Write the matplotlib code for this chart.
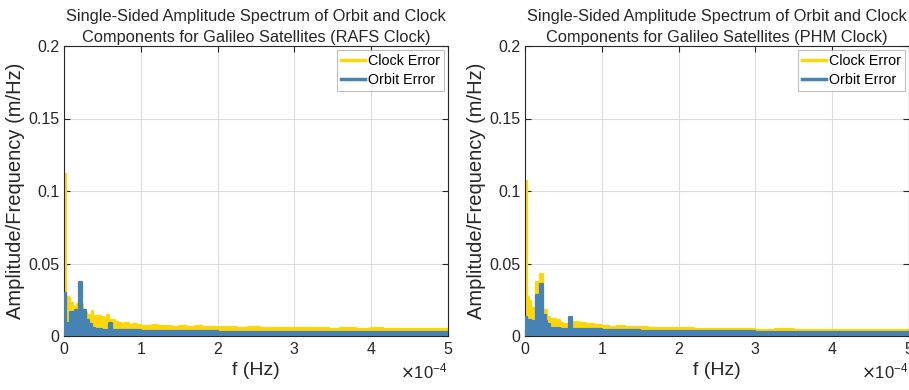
import matplotlib
matplotlib.use("Agg")
import matplotlib.pyplot as plt
from matplotlib.ticker import ScalarFormatter, FuncFormatter

plt.rcParams['font.family'] = ['Liberation Sans', 'DejaVu Sans']

# ---------------- data (frequency in micro-Hz, amplitude envelope in m/Hz) ----------------
rafs_clock_f = [0, 1.3, 2.6, 4, 6, 8, 9.5, 12, 14, 17, 19, 22, 25, 27, 30, 33, 36, 38, 40, 44,
                48, 52, 56, 58, 62, 66, 70, 75, 80, 85, 90, 95, 100, 108, 115, 122, 130, 140,
                150, 160, 170, 180, 190, 200, 210, 225, 240, 255, 270, 285, 300, 315, 330,
                345, 360, 380, 400, 415, 430, 445, 460, 480, 500]
rafs_clock_a = [0.112, 0.112, 0.027, 0.027, 0.026, 0.022, 0.023, 0.020, 0.019, 0.022, 0.023, 0.022,
                0.018, 0.016, 0.0145, 0.0145, 0.0175, 0.014, 0.0135, 0.0135, 0.0130, 0.0125,
                0.0145, 0.011, 0.011, 0.0095, 0.0090, 0.0082, 0.0088, 0.0078, 0.0082, 0.0074,
                0.0072, 0.0068, 0.0074, 0.0066, 0.0070, 0.0064, 0.0067, 0.0062, 0.0068,
                0.0061, 0.0063, 0.0059, 0.0062, 0.0057, 0.0060, 0.0055, 0.0058, 0.0054,
                0.0057, 0.0052, 0.0055, 0.0051, 0.0054, 0.0049, 0.0052, 0.0047, 0.0050,
                0.0046, 0.0048, 0.0045, 0.0046]

rafs_orbit_f = [0, 1.5, 2.6, 5, 8, 10, 11.5, 13, 14, 17, 19, 21, 23, 25, 27, 29, 32, 36, 40, 45,
                50, 56, 58, 60, 62, 70, 85, 100, 130, 160, 200, 250, 300, 350, 400, 450, 500]
rafs_orbit_a = [0.0294, 0.0294, 0.009, 0.009, 0.0168, 0.0168, 0.011, 0.011, 0.018, 0.018,
                0.0375, 0.0375, 0.012, 0.018, 0.018, 0.011, 0.008, 0.0055, 0.0050, 0.0045,
                0.0042, 0.0042, 0.0090, 0.0090, 0.0042, 0.0040, 0.0038, 0.0036, 0.0034,
                0.0033, 0.0031, 0.0030, 0.0030, 0.0029, 0.0029, 0.0028, 0.0028]

phm_clock_f = [0, 1.3, 2.6, 5, 8, 12, 14, 17.5, 19, 22, 24, 28, 32, 40, 45, 50, 55, 62, 70,
               80, 90, 100, 110, 120, 130, 145, 160, 175, 190, 205, 220, 240, 260, 280, 300,
               325, 350, 375, 400, 425, 450, 475, 500]
phm_clock_a = [0.107, 0.107, 0.027, 0.024, 0.019, 0.017, 0.0375, 0.0375, 0.043, 0.043, 0.018,
               0.0133, 0.012, 0.011, 0.0090, 0.0083, 0.0080, 0.0095, 0.0090, 0.0080, 0.0076,
               0.0068, 0.0064, 0.0066, 0.0060, 0.0062, 0.0056, 0.0058, 0.0052, 0.0054,
               0.0048, 0.0050, 0.0045, 0.0047, 0.0043, 0.0045, 0.0041, 0.0043, 0.0040,
               0.0042, 0.0039, 0.0041, 0.0039]

phm_orbit_f = [0, 1.5, 2.6, 8, 12, 14, 17.5, 19, 22, 24, 27, 29, 33, 45, 55, 57, 59, 61, 80,
               100, 150, 200, 300, 400, 500]
phm_orbit_a = [0.0133, 0.0133, 0.011, 0.0105, 0.010, 0.028, 0.028, 0.036, 0.036, 0.0145,
               0.0106, 0.008, 0.0055, 0.0050, 0.0048, 0.0129, 0.0129, 0.0048, 0.0045,
               0.0040, 0.0035, 0.0032, 0.0029, 0.0028, 0.0028]

series_labels = ['Clock Error', 'Orbit Error']
titles = ['Single-Sided Amplitude Spectrum of Orbit and Clock\nComponents for Galileo Satellites (RAFS Clock)',
          'Single-Sided Amplitude Spectrum of Orbit and Clock\nComponents for Galileo Satellites (PHM Clock)']
x_ticks = [0, 1e-4, 2e-4, 3e-4, 4e-4, 5e-4]
y_ticks = [0, 0.05, 0.1, 0.15, 0.2]

CLOCK_C = '#FFD60A'
ORBIT_C = '#4682B4'
TXT = '#262626'

fig = plt.figure(figsize=(9.09, 3.90), dpi=100)
W, H = 909, 390
positions = [(64, 384), (525, 384)]
datasets = [(rafs_clock_f, rafs_clock_a, rafs_orbit_f, rafs_orbit_a),
            (phm_clock_f, phm_clock_a, phm_orbit_f, phm_orbit_a)]

for (x0, w), (cf, ca, of, oa), title in zip(positions, datasets, titles):
    ax = fig.add_axes([x0 / W, (H - 336) / H, w / W, 290 / H])
    cfh = [v * 1e-6 for v in cf]
    ofh = [v * 1e-6 for v in of]
    ax.fill_between(cfh, 0, ca, step='post', color=CLOCK_C, lw=0, zorder=2)
    ax.plot(cfh, ca, drawstyle='steps-post', color=CLOCK_C, lw=1.6, label=series_labels[0], zorder=2)
    ax.fill_between(ofh, 0, oa, step='post', color=ORBIT_C, lw=0, zorder=3)
    ax.plot(ofh, oa, drawstyle='steps-post', color=ORBIT_C, lw=1.6, label=series_labels[1], zorder=3)

    ax.set_xlim(0, 5e-4)
    ax.set_ylim(0, 0.2)
    ax.set_xticks(x_ticks)
    ax.set_yticks(y_ticks)
    fmt = ScalarFormatter(useMathText=True)
    fmt.set_powerlimits((-3, 3))
    ax.xaxis.set_major_formatter(fmt)
    ax.yaxis.set_major_formatter(FuncFormatter(lambda v, p: '%g' % v))
    off = ax.xaxis.get_offset_text()
    off.set_fontsize(12)
    off.set_color(TXT)
    off.set_y(-0.04)
    ax.tick_params(direction='in', top=True, right=True, length=4, width=0.8,
                   labelsize=11.5, colors=TXT, labelcolor=TXT)
    ax.grid(True, color='#DCDCDC', lw=0.8, zorder=0)
    ax.set_axisbelow(True)
    for s in ax.spines.values():
        s.set_color(TXT)
        s.set_linewidth(0.8)
    ax.set_xlabel('f (Hz)', fontsize=14, color=TXT, labelpad=4)
    ax.set_ylabel('Amplitude/Frequency (m/Hz)', fontsize=14.5, color=TXT, labelpad=2)
    ax.set_title(title, fontsize=11.8, color=TXT, pad=3, linespacing=1.45)
    leg = ax.legend(loc='upper right', fontsize=10.3, frameon=True, fancybox=False,
                    edgecolor='#B0B0B0', handlelength=1.7, handletextpad=0.2,
                    borderpad=0.3, labelspacing=0.35, borderaxespad=0.25)
    leg.get_frame().set_linewidth(0.8)
    for line in leg.get_lines():
        line.set_linewidth(2.5)

fig.savefig('out.png', dpi=100)
